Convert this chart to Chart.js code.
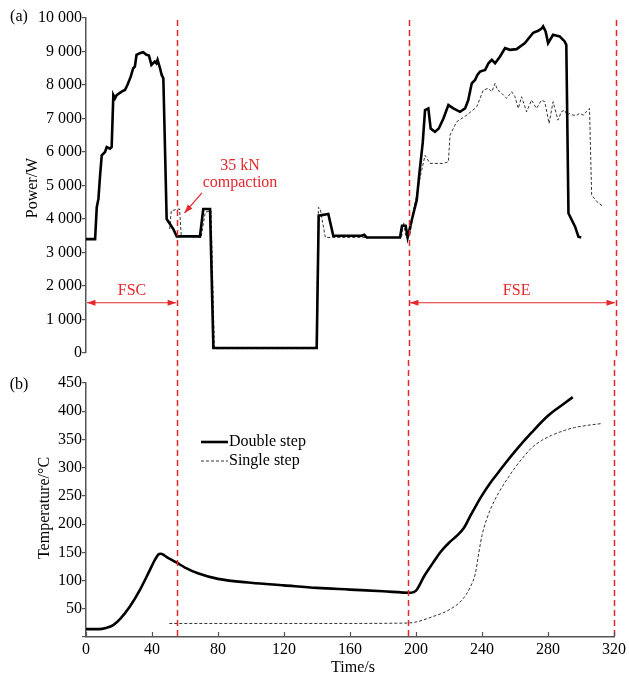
<!DOCTYPE html>
<html>
<head>
<meta charset="utf-8">
<script src="https://cdn.jsdelivr.net/npm/chart.js@4.4.0/dist/chart.umd.min.js"></script>
<style>
body{margin:0;background:#fff;}
#wrap{position:relative;width:629px;height:678px;}
canvas{position:absolute;left:0;}
#top{top:0;}
#bot{top:360px;}
</style>
</head>
<body>
<div id="wrap">
<canvas id="top" width="629" height="370"></canvas>
<canvas id="bot" width="629" height="318"></canvas>
</div>
<script>
// power, double step
const tPowDouble = [0,5.5,6.5,7.5,8.5,9.5,11.5,12.5,14.5,15.5,16.5,17.5,18.5,21.5,23.5,25,27,28.5,29.5,30.5,32.5,34.5,36.5,38,39.5,41.5,42.5,43.2,44.7,45.7,46.7,48.7,50.7,52.7,54.8,68.8,70.8,74.9,76.9,139.3,140.5,146.3,149.3,166.5,168,169.5,189.6,190.8,193,194.2,196.7,199.7,201.3,203.3,204.7,206.7,208.1,210.7,213,215.8,218.8,221.8,225.8,228.9,230.8,232.9,234.9,236.3,237.9,241,243,245,247,250,253,256,260,265,270,273,275.2,276,277.5,279,282,286,289,290,291.3,293.3,295.3,297.3,299];
const powDouble = [3400,3400,4350,4600,5300,5900,6000,6150,6100,6150,7700,7600,7700,7800,7850,8000,8250,8500,8550,8900,8950,8980,8900,8880,8600,8700,8650,8750,8500,8300,8200,4000,3850,3700,3480,3480,4300,4300,150,150,4100,4150,3500,3500,3530,3450,3450,3800,3800,3450,3970,4570,5370,6270,7250,7300,6700,6600,6700,7000,7400,7300,7200,7300,7550,8050,8150,8300,8400,8450,8650,8750,8650,8850,9100,9050,9070,9250,9560,9620,9690,9750,9600,9250,9500,9450,9300,9200,4170,3970,3770,3470,3450];

// power, single step
const tPowSingle = [50.5,51.5,56.5,57.5,69.5,72,75.5,77.5,139,140.3,141.5,142.5,144.5,190.5,191.8,193.2,195.5,198,200,202,204.7,207.7,215.8,218.8,219.8,223.8,229.9,235.9,239.9,243,245,247,248.5,250,252,254,257,259,261,263,266,269,272,275,277,279.6,282,285,287,289,290.5,292,294,296.4,298,300.4,302,304,305.3,308.4,312.4];
const powSingle = [3700,4250,4300,3500,3450,4200,4250,130,130,4350,4300,4000,3450,3450,3900,3450,3500,4300,4800,5300,5900,5660,5660,5710,6510,6900,7100,7350,7850,7900,7800,8050,7850,7800,7700,7600,7800,7650,7300,7650,7200,7550,7300,7550,7500,6850,7500,6950,7200,7250,7100,7150,7100,7100,7150,7100,7200,7300,4720,4520,4370];

// temperature
const tTempDouble = [0,8,12,16.5,21,26.6,32.6,38.6,42,44.3,45.5,48.7,54.8,60,67.8,80,100,120,140,160,180,197,200,205,210,215,220,225,229,233,237,240,245,250,255,260,270,280,290,295];
const tempDouble = [14,14,16,21,33,54,83,118,138,147,147.5,142,132,123,113,103,96,91.5,87,84,81,78.5,82,108,130,151,167,180,193,215,236,251,273,292,311,329,362,392,414,425];
const tTempSingle = [50.5,100,150,190,199,210,220,228,233,236,238,240,243,246,250,256,260,266,270,276,282,290,296,304,312];
const tempSingle = [24,24,24,24.5,26,36,48,66,89,113,148,180,210,232,255,283,300,322,335,348,357,366,371,375,378];

const seriesNames = ['Double step', 'Single step'];
const phaseLines = [55, 195, 320];

const RED = '#e5262b';
const AXIS = '#555';
const FONT = 'Liberation Serif';

function pts(xs, ys) {
  return xs.map((x, i) => ({x: x, y: ys[i]}));
}

function kfmt(v) {
  if (v < 1000) return String(v);
  return Math.floor(v / 1000) + ' ' + String(v % 1000).padStart(3, '0');
}

function arrow(ctx, x1, y1, x2, y2, both) {
  ctx.beginPath(); ctx.moveTo(x1, y1); ctx.lineTo(x2, y2); ctx.stroke();
  const head = (xa, ya, xb, yb) => {
    const ang = Math.atan2(yb - ya, xb - xa);
    ctx.beginPath();
    ctx.moveTo(xb, yb);
    ctx.lineTo(xb - 9 * Math.cos(ang - 0.35), yb - 9 * Math.sin(ang - 0.35));
    ctx.lineTo(xb - 9 * Math.cos(ang + 0.35), yb - 9 * Math.sin(ang + 0.35));
    ctx.closePath(); ctx.fill();
  };
  head(x1, y1, x2, y2);
  if (both) head(x2, y2, x1, y1);
}

const solidStyle = {borderColor: '#000', borderWidth: 2.6, pointRadius: 0, fill: false};
const dashStyle = {borderColor: '#333', borderWidth: 1, borderDash: [3, 2], pointRadius: 0, fill: false};

const topDeco = {
  id: 'topDeco',
  afterDraw(chart) {
    const {ctx, scales: {x, y}} = chart;
    ctx.save();
    ctx.strokeStyle = RED; ctx.fillStyle = RED; ctx.lineWidth = 1.5;
    ctx.setLineDash([6, 4]);
    phaseLines.forEach(t => {
      const px = Math.round(x.getPixelForValue(t)) + 0.5;
      ctx.beginPath(); ctx.moveTo(px, 20); ctx.lineTo(px, 360); ctx.stroke();
    });
    ctx.setLineDash([]);
    ctx.lineWidth = 1.2;
    const ay = y.getPixelForValue(1500);
    arrow(ctx, x.getPixelForValue(0) + 1, ay, x.getPixelForValue(55) - 1, ay, true);
    arrow(ctx, x.getPixelForValue(195) + 1, ay, x.getPixelForValue(320) - 1, ay, true);
    arrow(ctx, x.getPixelForValue(70), y.getPixelForValue(4780), x.getPixelForValue(59.5), y.getPixelForValue(4180), false);
    ctx.font = '16px ' + FONT;
    ctx.textAlign = 'center'; ctx.textBaseline = 'middle';
    ctx.fillText('FSC', x.getPixelForValue(27.8), ay - 12);
    ctx.fillText('FSE', x.getPixelForValue(260), ay - 12);
    ctx.fillText('35 kN', x.getPixelForValue(93), y.getPixelForValue(5580));
    ctx.fillText('compaction', x.getPixelForValue(93), y.getPixelForValue(5075));
    ctx.fillStyle = '#000';
    ctx.fillText('(a)', 19, 17);
    ctx.translate(33, 188); ctx.rotate(-Math.PI / 2);
    ctx.fillText('Power/W', 0, 0);
    ctx.restore();
  }
};

const botDeco = {
  id: 'botDeco',
  afterDraw(chart) {
    const {ctx, chartArea: a, scales: {x}} = chart;
    ctx.save();
    ctx.strokeStyle = RED; ctx.lineWidth = 1.5;
    ctx.setLineDash([6, 4]);
    phaseLines.forEach(t => {
      const px = Math.round(x.getPixelForValue(t)) + 0.5;
      ctx.beginPath(); ctx.moveTo(px, 0); ctx.lineTo(px, a.bottom); ctx.stroke();
    });
    ctx.setLineDash([]);
    // inward x ticks
    ctx.strokeStyle = AXIS; ctx.lineWidth = 1.2;
    x.ticks.forEach(tk => {
      const px = Math.round(x.getPixelForValue(tk.value)) + 0.5;
      ctx.beginPath(); ctx.moveTo(px, a.bottom); ctx.lineTo(px, a.bottom - 5); ctx.stroke();
    });
    // legend
    ctx.font = '16px ' + FONT;
    ctx.textBaseline = 'middle'; ctx.textAlign = 'left';
    chart.data.datasets.forEach((ds, i) => {
      const ly = 82 + i * 19;
      ctx.strokeStyle = ds.borderColor; ctx.lineWidth = ds.borderWidth;
      ctx.setLineDash(ds.borderDash || []);
      ctx.beginPath(); ctx.moveTo(201, ly); ctx.lineTo(228, ly); ctx.stroke();
      ctx.fillStyle = '#000';
      ctx.fillText(ds.label, 229, ly);
    });
    ctx.setLineDash([]);
    ctx.textAlign = 'center';
    ctx.fillText('(b)', 19, 25);
    ctx.fillText('Time/s', 353, 308);
    ctx.translate(45, 148); ctx.rotate(-Math.PI / 2);
    ctx.fillText('Temperature/\u00b0C', 0, 0);
    ctx.restore();
  }
};

new Chart(document.getElementById('top'), {
  type: 'line',
  data: {
    datasets: [
      Object.assign({label: seriesNames[0], data: pts(tPowDouble, powDouble), tension: 0}, solidStyle),
      Object.assign({label: seriesNames[1], data: pts(tPowSingle, powSingle), tension: 0}, dashStyle)
    ]
  },
  options: {
    responsive: false,
    animation: false,
    layout: {padding: {top: 18, right: 13, bottom: 17, left: 0}},
    plugins: {legend: {display: false}, tooltip: {enabled: false}},
    scales: {
      x: {type: 'linear', min: 0, max: 320, display: false},
      y: {
        min: 0, max: 10000,
        afterFit: s => { s.width = 86; },
        ticks: {stepSize: 1000, padding: 0, color: '#000', font: {family: FONT, size: 16}, callback: v => kfmt(v)},
        grid: {drawOnChartArea: false, tickLength: 4, color: AXIS, lineWidth: 1.2},
        border: {color: AXIS, width: 1.5}
      }
    }
  },
  plugins: [topDeco]
});

new Chart(document.getElementById('bot'), {
  type: 'line',
  data: {
    datasets: [
      Object.assign({label: seriesNames[0], data: pts(tTempDouble, tempDouble), cubicInterpolationMode: 'monotone'}, solidStyle),
      Object.assign({label: seriesNames[1], data: pts(tTempSingle, tempSingle), cubicInterpolationMode: 'monotone'}, dashStyle)
    ]
  },
  options: {
    responsive: false,
    animation: false,
    layout: {padding: {top: 23, right: 13, bottom: 0, left: 0}},
    plugins: {legend: {display: false}, tooltip: {enabled: false}},
    scales: {
      x: {
        type: 'linear', min: 0, max: 320,
        afterFit: s => { s.height = 41; },
        ticks: {stepSize: 40, padding: 3, maxRotation: 0, color: '#000', font: {family: FONT, size: 16}},
        grid: {drawOnChartArea: false, drawTicks: false, color: AXIS},
        border: {color: AXIS, width: 1.5}
      },
      y: {
        min: 0, max: 450,
        afterFit: s => { s.width = 86; },
        ticks: {stepSize: 50, padding: 0, color: '#000', font: {family: FONT, size: 16}, callback: v => v === 0 ? '' : v},
        grid: {drawOnChartArea: false, tickLength: 4, color: AXIS, lineWidth: 1.2},
        border: {color: AXIS, width: 1.5}
      }
    }
  },
  plugins: [botDeco]
});
</script>
</body>
</html>
